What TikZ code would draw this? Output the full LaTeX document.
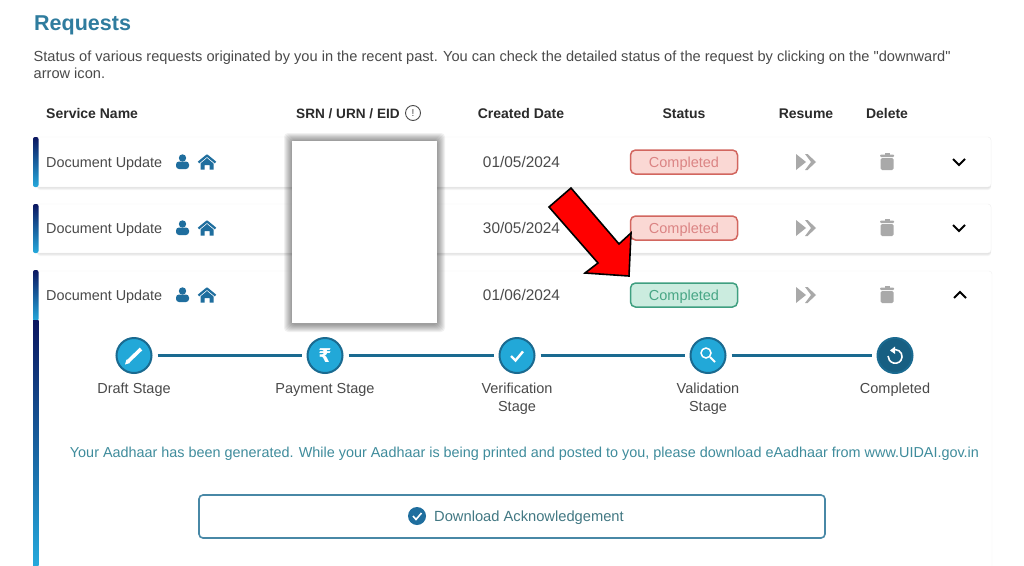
\documentclass[tikz,border=0pt]{standalone}
\usepackage{fontspec}
\setmainfont{Liberation Sans}[Ligatures=TeXOff]
\newfontfamily\symfont{DejaVu Sans}
\usetikzlibrary{arrows.meta}
\definecolor{titleblue}{HTML}{2F7C9E}
\definecolor{bodygrey}{HTML}{4A4A4A}
\definecolor{headgrey}{HTML}{2B2B2B}
\definecolor{iconblue}{HTML}{1F6E9E}
\definecolor{stagefill}{HTML}{22A8D8}
\definecolor{stageedge}{HTML}{1A6A90}
\definecolor{msgteal}{HTML}{3F8C9C}
\definecolor{navybar}{HTML}{0B1660}
\definecolor{cyanbar}{HTML}{25A9DC}
\definecolor{redfill}{HTML}{FAD8D4}
\definecolor{rededge}{HTML}{D2665F}
\definecolor{redtext}{HTML}{DB8484}
\definecolor{greenfill}{HTML}{CBECDF}
\definecolor{greenedge}{HTML}{3F9F80}
\definecolor{greentext}{HTML}{48A685}
\definecolor{btngrey}{HTML}{A9A9A9}
\tikzset{
  headtxt/.style={font=\fontsize{14}{16}\selectfont\bfseries,text=headgrey,inner sep=0pt,text height=10pt,text depth=0pt},
  rowtxt/.style={font=\fontsize{14.4}{16}\selectfont,text=bodygrey,inner sep=0pt,text height=10pt,text depth=0pt},
  stagelbl/.style={font=\fontsize{14.5}{18}\selectfont,text=bodygrey,inner sep=0pt,align=center},
  statuspill/.style={draw,line width=1.5pt,rounded corners=5pt,minimum width=107pt,minimum height=24pt,
    inner sep=0pt,text height=10pt,text depth=0pt,font=\fontsize{14.5}{16}\selectfont},
  redpill/.style={statuspill,fill=redfill,draw=rededge,text=redtext},
  greenpill/.style={statuspill,fill=greenfill,draw=greenedge,text=greentext},
  stagedot/.style={circle,draw=stageedge,fill=stagefill,line width=2pt,minimum size=35pt,inner sep=0pt},
  stageline/.style={stageedge,line width=2.5pt,shorten >=5pt,shorten <=5pt},
  cardbox/.style={fill=white,draw=black!5,rounded corners=3pt},
  personic/.pic={
    \fill[iconblue] (0.5,-4) circle (3.7pt);
    \fill[iconblue,rounded corners=3pt] (-6,7) -- (-6,-0.5) -- (7,-0.5) -- (7,7) -- cycle;
  },
  houseic/.pic={
    \draw[iconblue,line width=2.2pt,line join=round] (-8.5,0.5) -- (0,-6.5) -- (8.5,0.5);
    \fill[iconblue] (-6.5,1.5) -- (0,-4) -- (6.5,1.5) -- (6.5,7.5) -- (2.5,7.5) -- (2.5,3) -- (-2.5,3) -- (-2.5,7.5) -- (-6.5,7.5) -- cycle;
  },
  resumeic/.pic={
    \fill[btngrey] (-10,-8) -- (0,0) -- (-10,8) -- cycle;
    \fill[btngrey] (-1,-8) -- (1.5,-8) -- (10,0) -- (1.5,8) -- (-1,8) -- (5,0) -- cycle;
  },
  trashic/.pic={
    \fill[btngrey] (-2.5,-9) rectangle (2.5,-7);
    \fill[btngrey,rounded corners=1pt] (-7,-7.5) rectangle (7,-5);
    \fill[btngrey,rounded corners=1.5pt] (-6.5,-4) rectangle (6.5,8);
  }
}
\begin{document}
\begin{tikzpicture}[x=1pt,y=-1pt]
    \useasboundingbox[fill=white] (0,0) rectangle (1024,565);

    % draw heading and intro text
    \node[anchor=west,inner sep=0pt,font=\fontsize{21.5}{24}\selectfont\bfseries,text=titleblue,text height=15pt,text depth=0pt] (title) at (34,23) {Requests};
    \node[anchor=west,rowtxt,font=\fontsize{14.6}{16}\selectfont] (introa) at (33.5,56) {Status of various requests originated by you in the recent past. You can check the detailed status of the request by clicking on the "downward"};
    \node[anchor=west,rowtxt,font=\fontsize{14.6}{16}\selectfont] (introb) at (33.5,73) {arrow icon.};

    % draw table header
    \node[anchor=west,headtxt] (hservice) at (46,113) {Service Name};
    \node[anchor=west,headtxt,font=\fontsize{13.6}{16}\selectfont\bfseries] (hsrn) at (296,113) {SRN / URN / EID};
    \node[circle,draw=bodygrey,line width=0.9pt,minimum size=15pt,inner sep=0pt,font=\fontsize{10}{10}\selectfont,text=bodygrey] (hinfo) at (413,113) {!};
    \node[headtxt] (hdate) at (521,113) {Created Date};
    \node[headtxt] (hstatus) at (684,113) {Status};
    \node[headtxt] (hresume) at (806,113) {Resume};
    \node[headtxt] (hdelete) at (887,113) {Delete};

    % draw cards
    \foreach \s in {3,2,1}
      \fill[black,opacity=0.04,rounded corners=3pt] (37,137) rectangle (991,187+\s);
    \foreach \s in {3,2,1}
      \fill[black,opacity=0.04,rounded corners=3pt] (37,204) rectangle (991,253+\s);
    \draw[cardbox] (36,137) rectangle (991,187);
    \draw[cardbox] (36,204) rectangle (991,253);
    \draw[cardbox] (36,271) rectangle (992,575);

    % draw left bars
    \shade[top color=navybar,bottom color=cyanbar,rounded corners=2pt] (33,137) rectangle (38.5,187);
    \shade[top color=navybar,bottom color=cyanbar,rounded corners=2pt] (33,204) rectangle (38.5,253);
    \shade[top color=navybar,bottom color=cyanbar,rounded corners=2pt] (33,270) rectangle (38.5,321);
    \shade[top color=navybar,bottom color=cyanbar] (33,320) rectangle (38.5,565);

    % draw rows
    \foreach \n/\y/\d/\m in {1/162/01/05,2/228/30/05,3/295/01/06} {
      \node[anchor=west,rowtxt] (service\n) at (46,\y) {Document Update};
      \pic at (182,\y) {personic};
      \pic at (207,\y) {houseic};
      \node[rowtxt,font=\fontsize{15.4}{16}\selectfont] (date\n) at (521.5,\y) {\d/\m/2024};
      \pic at (806,\y) {resumeic};
      \pic at (887,\y) {trashic};
    }
    \node[redpill] (status1) at (684,162) {Completed};
    \node[redpill] (status2) at (684,228) {Completed};
    \node[greenpill] (status3) at (684,295) {Completed};

    % draw chevrons
    \draw[black,line width=2pt] (953,159) -- (959,165) -- (965,159);
    \draw[black,line width=2pt] (953,225) -- (959,231) -- (965,225);
    \draw[black,line width=2pt] (954,298) -- (960,292) -- (966,298);

    % draw stages
    \node[stagedot] (draft) at (134,355.5) {};
    \node[stagedot] (payment) at (325,355.5) {};
    \node[stagedot] (verify) at (517,355.5) {};
    \node[stagedot] (valid) at (708,355.5) {};
    \node[stagedot,fill=stageedge!90!black] (done) at (895,355.5) {};
    \draw[stageline] (draft) -- (payment);
    \draw[stageline] (payment) -- (verify);
    \draw[stageline] (verify) -- (valid);
    \draw[stageline] (valid) -- (done);
    \node[stagelbl] (ldraft) at (134,389.5) {Draft Stage};
    \node[stagelbl] (lpayment) at (325,389.5) {Payment Stage};
    \node[stagelbl] (lverify) at (517,398.5) {Verification\\Stage};
    \node[stagelbl] (lvalid) at (708,398.5) {Validation\\Stage};
    \node[stagelbl] (ldone) at (895,389.5) {Completed};

    % draw stage icons
    \draw[white,line width=3.6pt] (128,361.5) -- (141,349);
    \fill[white] (125,364.5) -- (126.5,359.5) -- (130,363) -- cycle;
    \node[text=white,inner sep=0pt,font=\symfont\fontsize{19}{19}\selectfont\bfseries] (rupee) at (325,355.5) {₹};
    \draw[white,line width=2.4pt] (511,356) -- (515.5,360.5) -- (523,351.5);
    \draw[white,line width=1.5pt] (706,353) circle (5pt);
    \draw[white,line width=1.8pt] (710,357) -- (715,362);
    \draw[white,line width=1.6pt] (891,350.5) .. controls (897,347.5) and (902.5,352) .. (902,357) .. controls (901.5,362) and (897,364) .. (893.5,363) .. controls (890,362) and (888,359) .. (888,356);
    \fill[white] (890,350.5) -- (895,346.5) -- (895,354) -- cycle;

    % draw message and button
    \node[rowtxt,text=msgteal] (message) at (524.5,452) {Your Aadhaar has been generated. While your Aadhaar is being printed and posted to you, please download eAadhaar from www.UIDAI.gov.in};
    \draw[draw=stageedge!80,line width=1.6pt,rounded corners=4pt] (199,495) rectangle (825,538);
    \node[circle,fill=iconblue,minimum size=18pt,inner sep=0pt] (okdot) at (417,516) {};
    \draw[white,line width=1.6pt] (413,516) -- (416,519.5) -- (421.5,513);
    \node[anchor=west,rowtxt,text=msgteal!70!bodygrey,font=\fontsize{14.7}{16}\selectfont] (download) at (434,516) {Download Acknowledgement};

    % draw redaction box with blurred edge
    \foreach \s in {8,7,6,5,4,3,2,1}
      \fill[black,opacity=0.055,rounded corners=4pt] (292-\s,141-\s) rectangle (437+\s,324+\s);
    \fill[white] (292,141) rectangle (437,323);

    % draw red arrow
    \draw[black,fill=red,line width=1.6pt,line join=miter] (571,188) -- (619,244) -- (631,233) -- (629,276) -- (585,273) -- (598,263) -- (549,207) -- cycle;
\end{tikzpicture}
\end{document}
